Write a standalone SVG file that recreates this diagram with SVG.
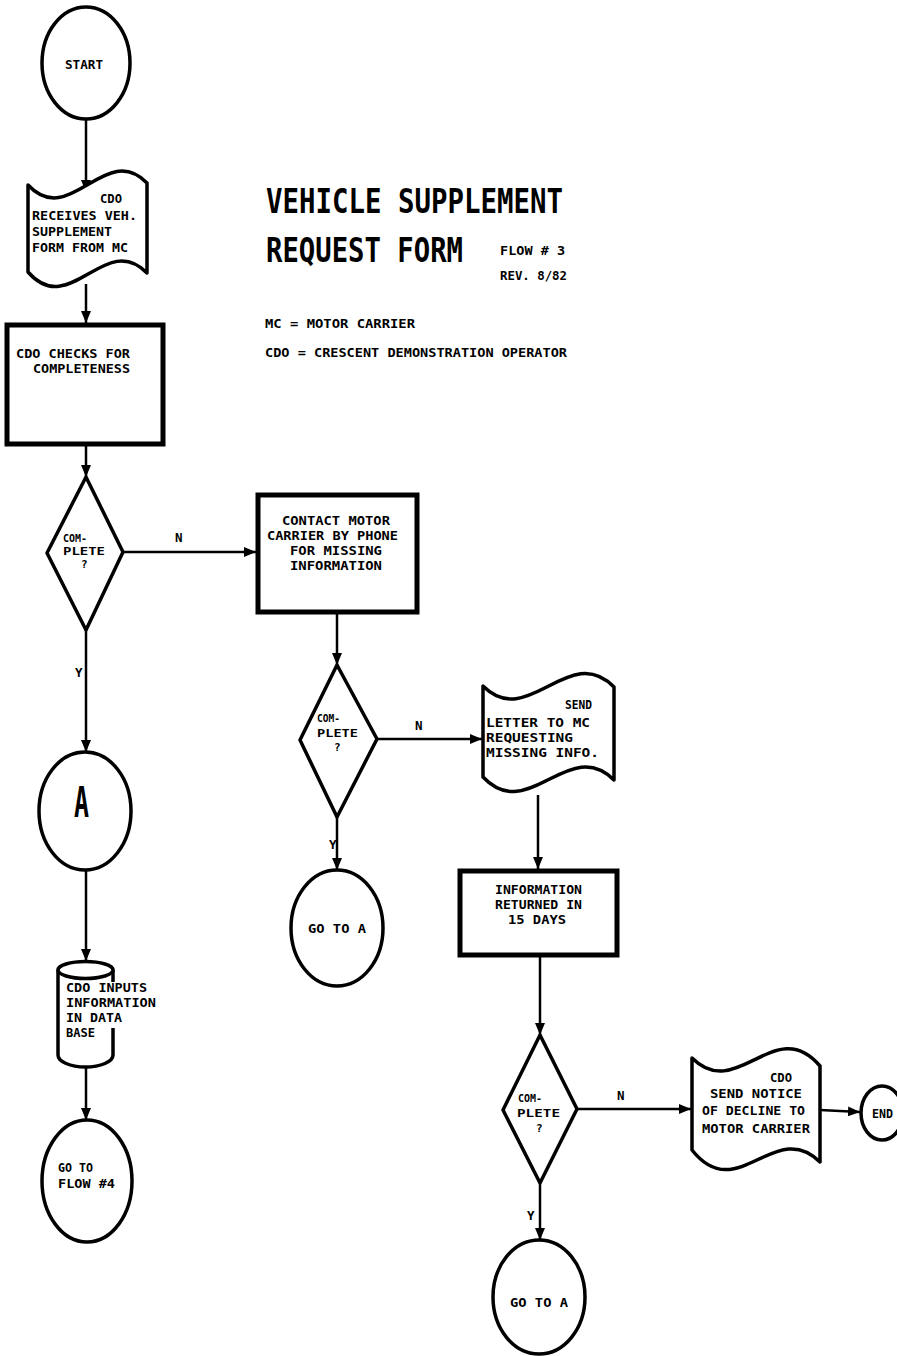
<svg xmlns="http://www.w3.org/2000/svg" width="897" height="1356" viewBox="0 0 897 1356">
<style>
.s{fill:#fff;stroke:#000;stroke-width:3.5;stroke-linejoin:round}
.b{fill:#fff;stroke:#000;stroke-width:5}
.c{stroke:#000;stroke-width:2.5;fill:none;marker-end:url(#arr)}
.t{font-family:"DejaVu Sans Mono","Liberation Mono",monospace;font-weight:bold;font-size:12.5px;fill:#000}
.d{font-family:"DejaVu Sans Mono","Liberation Mono",monospace;font-weight:bold;font-size:11px;fill:#000}
.h{font-family:"DejaVu Sans Mono","Liberation Mono",monospace;font-weight:bold;font-size:33px;fill:#000}
.m{font-family:"DejaVu Sans Mono","Liberation Mono",monospace;font-weight:bold;font-size:12px;fill:#000}
</style>
<defs>
<marker id="arr" markerWidth="12" markerHeight="10" refX="12" refY="5" orient="auto" markerUnits="userSpaceOnUse"><path d="M0,0 L12,5 L0,10 z" fill="#000"/></marker>
</defs>
<rect width="897" height="1356" fill="#fff"/>

<g id="title">
<text class="h" x="266" y="213" textLength="297" lengthAdjust="spacingAndGlyphs">VEHICLE SUPPLEMENT</text>
<text class="h" x="266" y="262" textLength="197" lengthAdjust="spacingAndGlyphs">REQUEST FORM</text>
<text class="m" x="500" y="255" textLength="65" lengthAdjust="spacingAndGlyphs">FLOW # 3</text>
<text class="m" x="500" y="280" textLength="67" lengthAdjust="spacingAndGlyphs">REV. 8/82</text>
<text class="m" x="265" y="328" textLength="150" lengthAdjust="spacingAndGlyphs">MC = MOTOR CARRIER</text>
<text class="m" x="265" y="357" textLength="302" lengthAdjust="spacingAndGlyphs">CDO = CRESCENT DEMONSTRATION OPERATOR</text>
</g>

<g id="connectors">
<line class="c" x1="86" y1="119" x2="86" y2="192"/>
<line class="c" x1="86" y1="284" x2="86" y2="323"/>
<line class="c" x1="86" y1="446" x2="86" y2="477"/>
<line class="c" x1="123" y1="552" x2="256" y2="552"/>
<line class="c" x1="86" y1="630" x2="86" y2="752"/>
<line class="c" x1="86" y1="870" x2="86" y2="961"/>
<line class="c" x1="86" y1="1068" x2="86" y2="1120"/>
<line class="c" x1="337" y1="614" x2="337" y2="665"/>
<line class="c" x1="377" y1="739" x2="482" y2="739"/>
<line class="c" x1="337" y1="817" x2="337" y2="870"/>
<line class="c" x1="538" y1="795" x2="538" y2="869"/>
<line class="c" x1="540" y1="957" x2="540" y2="1035"/>
<line class="c" x1="577" y1="1109" x2="691" y2="1109"/>
<line class="c" x1="540" y1="1183" x2="540" y2="1240"/>
<line class="c" x1="820" y1="1110" x2="860" y2="1112"/>
<text class="t" x="175" y="542">N</text>
<text class="t" x="75" y="677">Y</text>
<text class="t" x="415" y="730">N</text>
<text class="t" x="329" y="849">Y</text>
<text class="t" x="617" y="1100">N</text>
<text class="t" x="527" y="1220">Y</text>
</g>

<g id="start">
<ellipse class="s" cx="86" cy="63" rx="44" ry="56"/>
<text class="t" x="65" y="69" textLength="38" lengthAdjust="spacingAndGlyphs">START</text>
</g>

<g id="receives">
<path class="s" d="M28,185 C70,230 105,140 147,183 L147,273 C105,230 70,320 28,272 Z"/>
<text class="t" x="100" y="203" textLength="22" lengthAdjust="spacingAndGlyphs">CDO</text>
<text class="t" x="32" y="220" textLength="105" lengthAdjust="spacingAndGlyphs">RECEIVES VEH.</text>
<text class="t" x="32" y="236" textLength="80" lengthAdjust="spacingAndGlyphs">SUPPLEMENT</text>
<text class="t" x="32" y="252" textLength="96" lengthAdjust="spacingAndGlyphs">FORM FROM MC</text>
</g>

<g id="checks">
<rect class="b" x="7" y="325" width="156" height="119"/>
<text class="t" x="16" y="358" textLength="114" lengthAdjust="spacingAndGlyphs">CDO CHECKS FOR</text>
<text class="t" x="33" y="373" textLength="97" lengthAdjust="spacingAndGlyphs">COMPLETENESS</text>
</g>

<g id="complete1">
<path class="s" d="M86,477 L123,552 L86,630 L47,553 Z"/>
<text class="d" x="63" y="542" textLength="24" lengthAdjust="spacingAndGlyphs">COM-</text>
<text class="d" x="63" y="555" textLength="42" lengthAdjust="spacingAndGlyphs">PLETE</text>
<text class="d" x="81" y="568">?</text>
</g>

<g id="contact">
<rect class="b" x="258" y="495" width="159" height="117"/>
<text class="t" x="282" y="525" textLength="108" lengthAdjust="spacingAndGlyphs">CONTACT MOTOR</text>
<text class="t" x="267" y="540" textLength="131" lengthAdjust="spacingAndGlyphs">CARRIER BY PHONE</text>
<text class="t" x="290" y="555" textLength="92" lengthAdjust="spacingAndGlyphs">FOR MISSING</text>
<text class="t" x="290" y="570" textLength="92" lengthAdjust="spacingAndGlyphs">INFORMATION</text>
</g>

<g id="nodeA">
<ellipse class="s" cx="85" cy="811" rx="46" ry="59"/>
<text class="t" x="74" y="817" style="font-size:42px" textLength="15" lengthAdjust="spacingAndGlyphs">A</text>
</g>

<g id="inputs">
<path class="s" d="M58,970 L58,1055 A27.5,12 0 0 0 113,1055 L113,1028 M113,982 L113,970"/>
<ellipse class="s" cx="85.5" cy="970" rx="27.5" ry="8.5"/>
<text class="t" x="66" y="992" textLength="81" lengthAdjust="spacingAndGlyphs">CDO INPUTS</text>
<text class="t" x="66" y="1007" textLength="90" lengthAdjust="spacingAndGlyphs">INFORMATION</text>
<text class="t" x="66" y="1022" textLength="56" lengthAdjust="spacingAndGlyphs">IN DATA</text>
<text class="t" x="66" y="1037" textLength="29" lengthAdjust="spacingAndGlyphs">BASE</text>
</g>

<g id="flow4">
<ellipse class="s" cx="87" cy="1181" rx="45" ry="61"/>
<text class="t" x="58" y="1172" textLength="35" lengthAdjust="spacingAndGlyphs">GO TO</text>
<text class="t" x="58" y="1188" textLength="57" lengthAdjust="spacingAndGlyphs">FLOW #4</text>
</g>

<g id="complete2">
<path class="s" d="M337,665 L377,739 L337,817 L300,740 Z"/>
<text class="d" x="317" y="722" textLength="23" lengthAdjust="spacingAndGlyphs">COM-</text>
<text class="d" x="317" y="737" textLength="41" lengthAdjust="spacingAndGlyphs">PLETE</text>
<text class="d" x="334" y="751">?</text>
</g>

<g id="gotoA1">
<ellipse class="s" cx="337" cy="928" rx="46" ry="58"/>
<text class="t" x="308" y="933" textLength="58" lengthAdjust="spacingAndGlyphs">GO TO A</text>
</g>

<g id="letter">
<path class="s" d="M483,686 C528,731 569,641 614,687 L614,780 C569,735 528,825 483,777 Z"/>
<text class="t" x="565" y="709" textLength="27" lengthAdjust="spacingAndGlyphs">SEND</text>
<text class="t" x="486" y="727" textLength="104" lengthAdjust="spacingAndGlyphs">LETTER TO MC</text>
<text class="t" x="486" y="742" textLength="87" lengthAdjust="spacingAndGlyphs">REQUESTING</text>
<text class="t" x="486" y="757" textLength="113" lengthAdjust="spacingAndGlyphs">MISSING INFO.</text>
</g>

<g id="returned">
<rect class="b" x="460" y="871" width="157" height="84"/>
<text class="t" x="495" y="894" textLength="87" lengthAdjust="spacingAndGlyphs">INFORMATION</text>
<text class="t" x="495" y="909" textLength="87" lengthAdjust="spacingAndGlyphs">RETURNED IN</text>
<text class="t" x="508" y="924" textLength="58" lengthAdjust="spacingAndGlyphs">15 DAYS</text>
</g>

<g id="complete3">
<path class="s" d="M540,1035 L577,1109 L540,1183 L503,1110 Z"/>
<text class="d" x="518" y="1102" textLength="24" lengthAdjust="spacingAndGlyphs">COM-</text>
<text class="d" x="517" y="1117" textLength="43" lengthAdjust="spacingAndGlyphs">PLETE</text>
<text class="d" x="536" y="1132">?</text>
</g>

<g id="gotoA2">
<ellipse class="s" cx="539" cy="1297" rx="46" ry="57"/>
<text class="t" x="510" y="1307" textLength="58" lengthAdjust="spacingAndGlyphs">GO TO A</text>
</g>

<g id="decline">
<path class="s" d="M692,1058 C737,1103 775,1013 820,1066 L820,1162 C775,1117 737,1207 692,1150 Z"/>
<text class="t" x="770" y="1082" textLength="22" lengthAdjust="spacingAndGlyphs">CDO</text>
<text class="t" x="710" y="1098" textLength="92" lengthAdjust="spacingAndGlyphs">SEND NOTICE</text>
<text class="t" x="702" y="1115" textLength="103" lengthAdjust="spacingAndGlyphs">OF DECLINE TO</text>
<text class="t" x="702" y="1133" textLength="108" lengthAdjust="spacingAndGlyphs">MOTOR CARRIER</text>
</g>

<g id="end">
<ellipse class="s" cx="882" cy="1113" rx="21" ry="27"/>
<text class="t" x="872" y="1118" textLength="21" lengthAdjust="spacingAndGlyphs">END</text>
</g>
</svg>
